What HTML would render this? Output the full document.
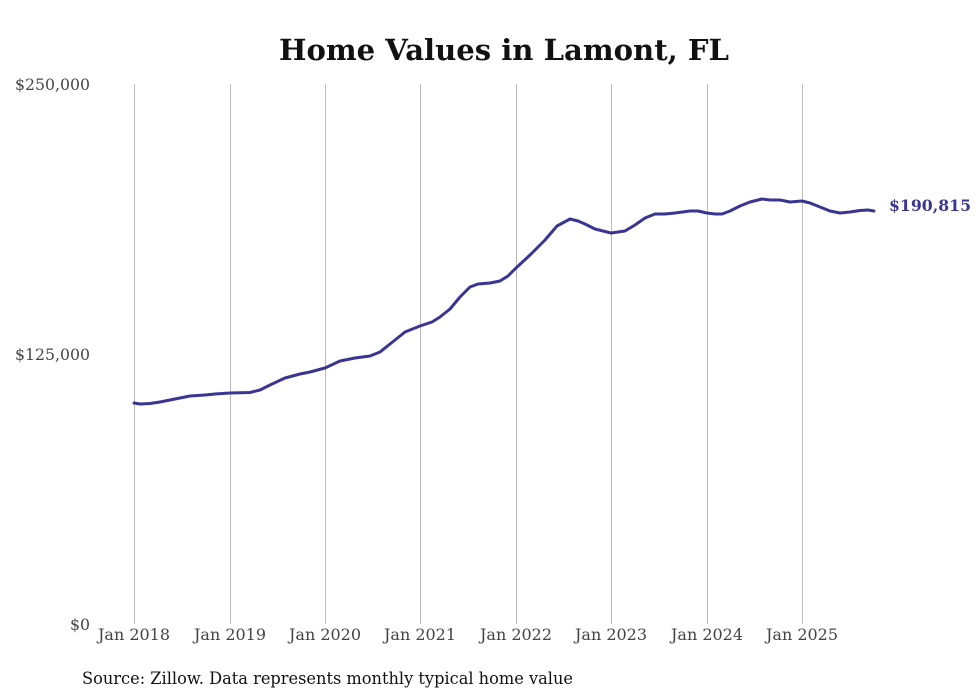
<!DOCTYPE html>
<html><head><meta charset="utf-8"><style>
body{margin:0;background:#fff;}
svg{display:block;}
</style></head><body>
<svg width="980" height="699" viewBox="0 0 980 699" xmlns="http://www.w3.org/2000/svg">
<rect width="980" height="699" fill="#fff"/>
<text x="279" y="60" textLength="450" lengthAdjust="spacingAndGlyphs" font-family="'DejaVu Serif', 'Liberation Serif', serif" font-weight="bold" font-size="29" fill="#111">Home Values in Lamont, FL</text>
<g stroke="#bbb" stroke-width="1">
<line x1="134.5" y1="84" x2="134.5" y2="624"/>
<line x1="230.5" y1="84" x2="230.5" y2="624"/>
<line x1="325.5" y1="84" x2="325.5" y2="624"/>
<line x1="420.5" y1="84" x2="420.5" y2="624"/>
<line x1="516.5" y1="84" x2="516.5" y2="624"/>
<line x1="611.5" y1="84" x2="611.5" y2="624"/>
<line x1="707.5" y1="84" x2="707.5" y2="624"/>
<line x1="802.5" y1="84" x2="802.5" y2="624"/>
</g>
<g font-family="'DejaVu Serif', 'Liberation Serif', serif" font-size="16" fill="#444">
<text x="15" y="90" textLength="75" lengthAdjust="spacingAndGlyphs">$250,000</text>
<text x="15" y="360" textLength="75" lengthAdjust="spacingAndGlyphs">$125,000</text>
<text x="70" y="630" textLength="20" lengthAdjust="spacingAndGlyphs">$0</text>
<text x="98" y="640" textLength="72" lengthAdjust="spacingAndGlyphs">Jan 2018</text>
<text x="194" y="640" textLength="72" lengthAdjust="spacingAndGlyphs">Jan 2019</text>
<text x="289" y="640" textLength="72" lengthAdjust="spacingAndGlyphs">Jan 2020</text>
<text x="384" y="640" textLength="72" lengthAdjust="spacingAndGlyphs">Jan 2021</text>
<text x="480" y="640" textLength="72" lengthAdjust="spacingAndGlyphs">Jan 2022</text>
<text x="575" y="640" textLength="72" lengthAdjust="spacingAndGlyphs">Jan 2023</text>
<text x="671" y="640" textLength="72" lengthAdjust="spacingAndGlyphs">Jan 2024</text>
<text x="766" y="640" textLength="72" lengthAdjust="spacingAndGlyphs">Jan 2025</text>
</g>
<polyline fill="none" stroke="#3a3592" stroke-width="3" stroke-linejoin="round" stroke-linecap="round" points="134,403 140,404 150,403.5 160,402 175,399 190,396 205,395 215,394 230,393 250,392.5 260,390 270,385 285,378 300,374 310,372 325,368 340,361 355,358 370,356 380,352 390,344 405,332 420,326 432,322 440,317 450,309 460,297 470,287 478,284 490,283 500,281 508,276 516,268 530,255 545,240 557,226 570,219 578,221 585,224 595,229 611,233 625,231 635,225 645,218 655,214 665,214 675,213 690,211 698,211 707,213 715,214 722,214 730,211 740,206 750,202 762,199 770,200 780,200 790,202 802,201 810,203 820,207 830,211 840,213 850,212 860,210.5 868,210 874,211"/>
<text x="889" y="211" textLength="82" lengthAdjust="spacingAndGlyphs" font-family="'DejaVu Serif', 'Liberation Serif', serif" font-weight="bold" font-size="16" fill="#3a3592">$190,815</text>
<text x="82" y="684" textLength="491" lengthAdjust="spacingAndGlyphs" font-family="'DejaVu Serif', 'Liberation Serif', serif" font-size="17" fill="#111">Source: Zillow. Data represents monthly typical home value</text>
</svg>
</body></html>
